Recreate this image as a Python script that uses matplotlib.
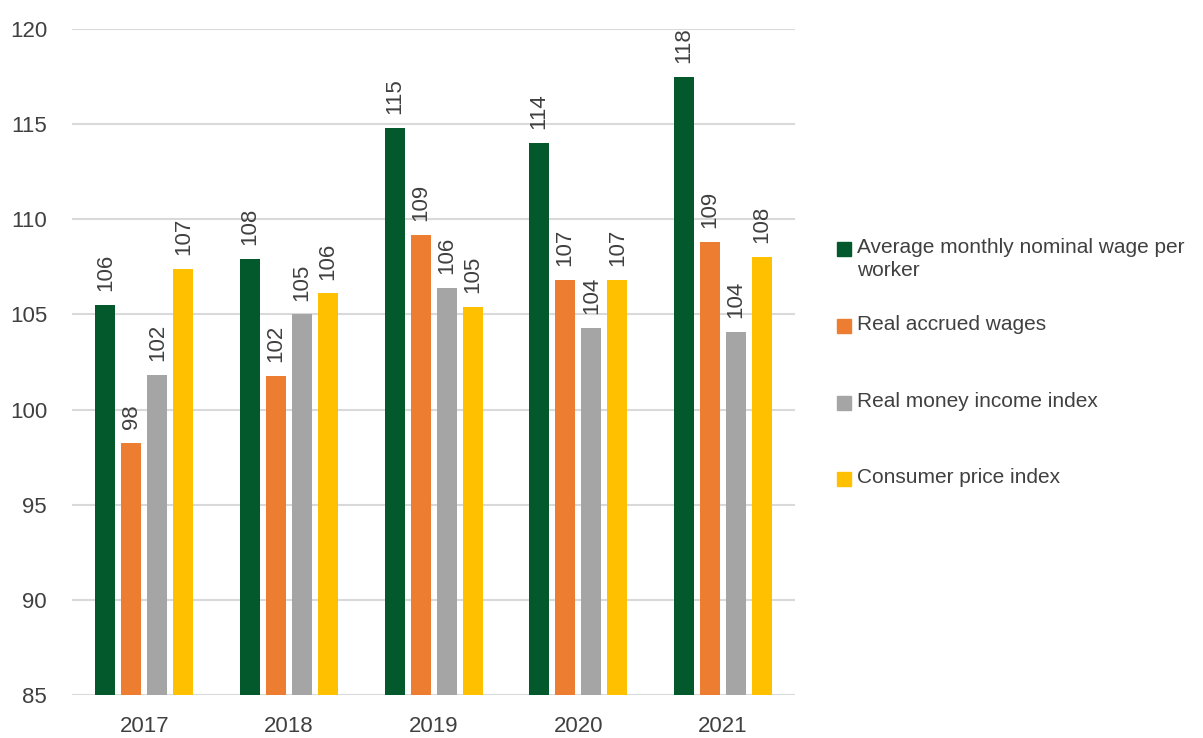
import matplotlib.pyplot as plt
import numpy as np
from matplotlib.patches import Rectangle

years = ["2017", "2018", "2019", "2020", "2021"]
series_names = [
    "Average monthly nominal wage per\nworker",
    "Real accrued wages",
    "Real money income index",
    "Consumer price index",
]
nominal_wage = [105.5, 107.9, 114.8, 114.0, 117.5]
real_wages = [98.25, 101.75, 109.2, 106.8, 108.8]
real_income = [101.8, 105.0, 106.4, 104.3, 104.1]
cpi = [107.4, 106.1, 105.4, 106.8, 108.0]

colors = ["#03592B", "#ED7D31", "#A5A5A5", "#FFC000"]
TEXT = "#404040"

plt.rcParams["font.family"] = ["Liberation Sans Narrow", "Liberation Sans", "DejaVu Sans"]

fig = plt.figure(figsize=(12.03, 7.38), dpi=100)
ax = fig.add_axes([0.0599, 0.0583, 0.6011, 0.9024])

x = np.arange(len(years))
slot = 0.18
width = 0.138
all_series = [nominal_wage, real_wages, real_income, cpi]

for i, (vals, col) in enumerate(zip(all_series, colors)):
    pos = x + (i - 1.5) * slot
    bars = ax.bar(pos, vals, width=width, bottom=0, color=col, zorder=3)
    for b, v in zip(bars, vals):
        ax.annotate(f"{v:.0f}", (b.get_x() + b.get_width() / 2, v),
                    xytext=(0, 10), textcoords="offset points",
                    ha="center", va="bottom", rotation=90,
                    fontsize=16, color=TEXT)

ax.set_ylim(85, 120)
ax.set_xlim(-0.5, len(years) - 0.5)
ax.set_yticks(range(85, 121, 5))
ax.set_xticks(x)
ax.set_xticklabels(years)
ax.tick_params(axis="both", length=0, labelsize=16, colors=TEXT)
ax.tick_params(axis="y", pad=18)
ax.tick_params(axis="x", pad=15)
ax.grid(axis="y", color="#D9D9D9", linewidth=1.5, zorder=0)
for s in ax.spines.values():
    s.set_visible(False)

# legend drawn by hand so entries can be spaced like the source layout
leg_y = [249, 326, 403, 479]
for name, col, yp in zip(series_names, colors, leg_y):
    fy = 1 - yp / 738
    fig.add_artist(Rectangle((837 / 1203, fy - 7 / 738), 14 / 1203, 14 / 738,
                             transform=fig.transFigure, color=col))
    fig.text(857 / 1203, fy + 11 / 738, name, fontsize=15, color=TEXT,
             ha="left", va="top", linespacing=1.3)

fig.savefig("out.png", dpi=100)
